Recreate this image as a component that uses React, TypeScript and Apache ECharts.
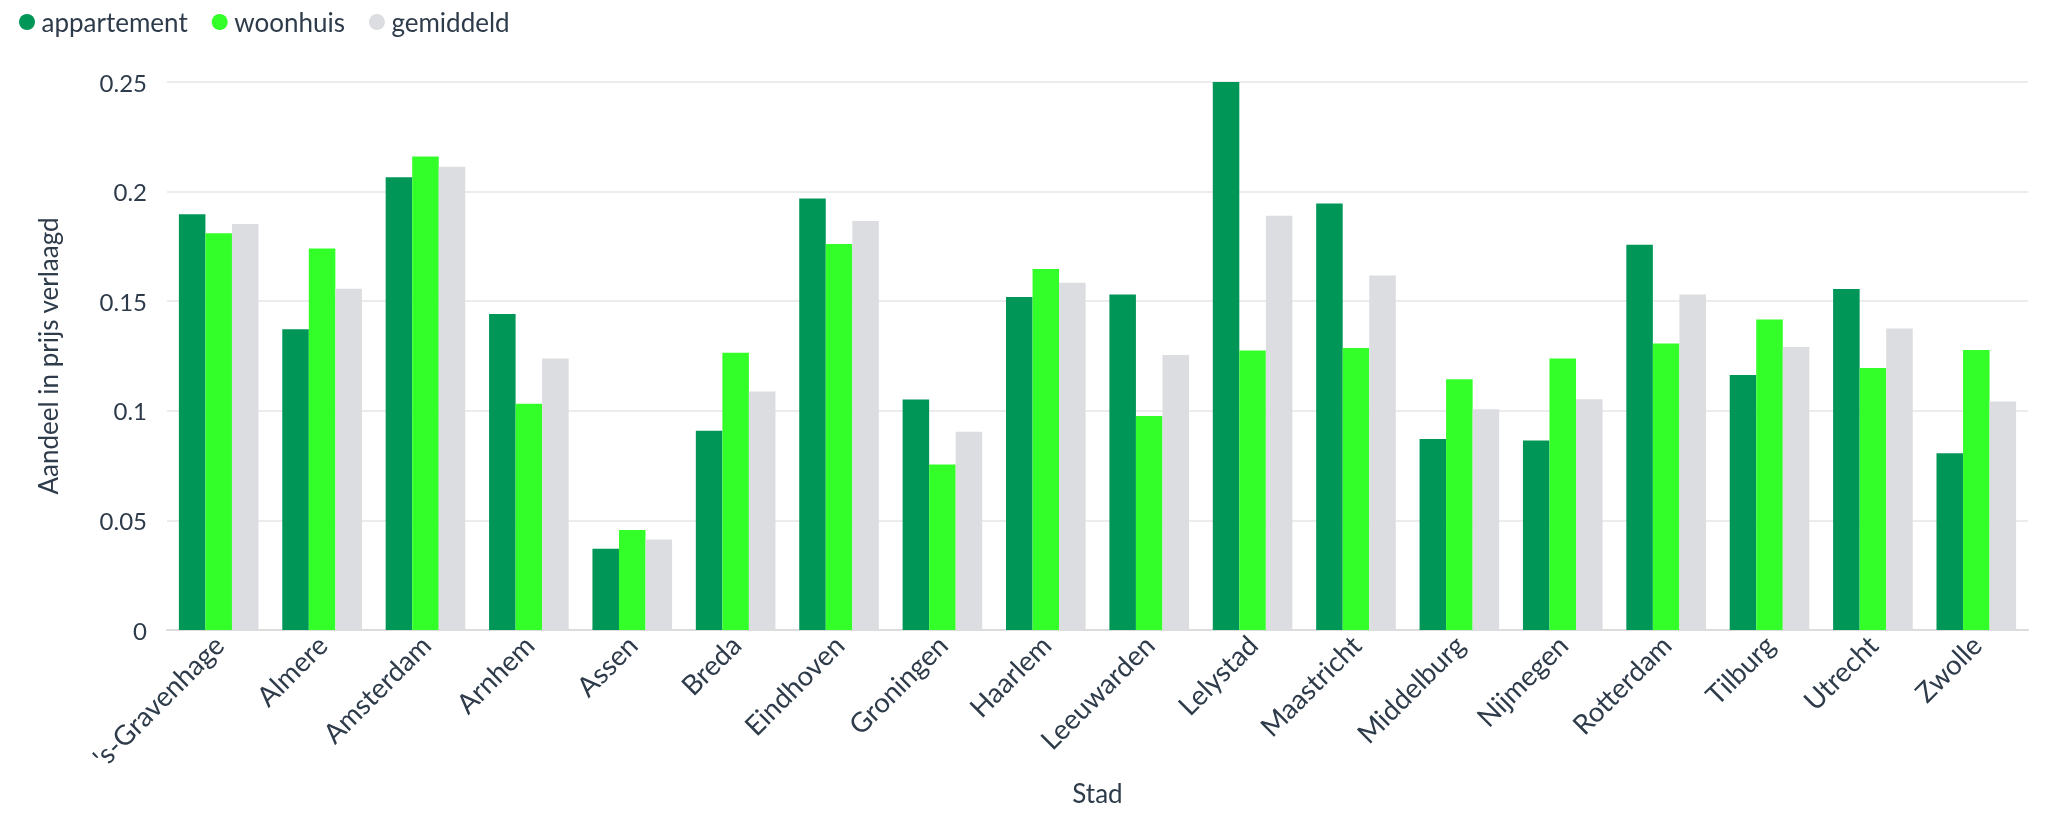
import React, { useEffect, useRef } from "react";
import * as echarts from "echarts";

const categories = [
  "'s-Gravenhage", "Almere", "Amsterdam", "Arnhem", "Assen", "Breda",
  "Eindhoven", "Groningen", "Haarlem", "Leeuwarden", "Lelystad", "Maastricht",
  "Middelburg", "Nijmegen", "Rotterdam", "Tilburg", "Utrecht", "Zwolle",
];

const appartement = [
  0.1897, 0.1372, 0.2066, 0.1442, 0.0371, 0.0909,
  0.1969, 0.1051, 0.1519, 0.1531, 0.25, 0.1946,
  0.0871, 0.0865, 0.1757, 0.1163, 0.1556, 0.0806,
];

const woonhuis = [
  0.181, 0.174, 0.216, 0.1032, 0.0456, 0.1265,
  0.1761, 0.0755, 0.1647, 0.0976, 0.1275, 0.1286,
  0.1144, 0.1239, 0.1307, 0.1417, 0.1195, 0.1277,
];

const gemiddeld = [
  0.1852, 0.1557, 0.2113, 0.1239, 0.0413, 0.1088,
  0.1866, 0.0904, 0.1584, 0.1254, 0.189, 0.1617,
  0.1007, 0.1053, 0.1531, 0.1291, 0.1375, 0.1042,
];

const seriesNames = ["appartement", "woonhuis", "gemiddeld"];
const seriesColors = ["#009658", "#33ff29", "#dcdde0"];

const TEXT = "#2e3b4a";
const FONT = "Lato";

export default function App() {
  const ref = useRef<HTMLDivElement>(null);

  useEffect(() => {
    if (!ref.current) return;
    const chart = echarts.init(ref.current, undefined, { renderer: "svg" });
    const dataSets = [appartement, woonhuis, gemiddeld];
    chart.setOption({
      animation: false,
      textStyle: { fontFamily: FONT, color: TEXT },
      legend: {
        left: 19,
        top: 9,
        padding: 0,
        icon: "circle",
        itemWidth: 19,
        itemHeight: 16,
        itemGap: 24,
        textStyle: { fontFamily: FONT, fontSize: 26, color: TEXT },
        data: seriesNames,
      },
      grid: { left: 167, right: 24, top: 82, bottom: 196, containLabel: false },
      xAxis: {
        type: "category",
        data: categories,
        name: "Stad",
        nameLocation: "middle",
        nameGap: 150,
        nameTextStyle: { fontFamily: FONT, fontSize: 26, color: TEXT },
        axisLine: { show: true, lineStyle: { color: "#dcdcdc", width: 2 } },
        axisTick: { show: false },
        axisLabel: {
          rotate: 45,
          interval: 0,
          margin: 10,
          fontFamily: FONT,
          fontSize: 27.5,
          color: TEXT,
        },
      },
      yAxis: {
        type: "value",
        min: 0,
        max: 0.25,
        interval: 0.05,
        name: "Aandeel in prijs verlaagd",
        nameLocation: "middle",
        nameGap: 106,
        nameTextStyle: { fontFamily: FONT, fontSize: 26, color: TEXT },
        axisLine: { show: false },
        axisTick: { show: false },
        axisLabel: { margin: 20, fontFamily: FONT, fontSize: 24, color: TEXT },
        splitLine: { lineStyle: { color: "#ececec", width: 2 } },
      },
      series: seriesNames.map((name, i) => ({
        name,
        type: "bar",
        data: dataSets[i],
        barGap: "0%",
        barCategoryGap: "23%",
        itemStyle: { color: seriesColors[i] },
      })),
    });
    return () => chart.dispose();
  }, []);

  return (
    <div
      ref={ref}
      style={{ position: "fixed", left: 0, top: 0, width: 2052, height: 826 }}
    />
  );
}
